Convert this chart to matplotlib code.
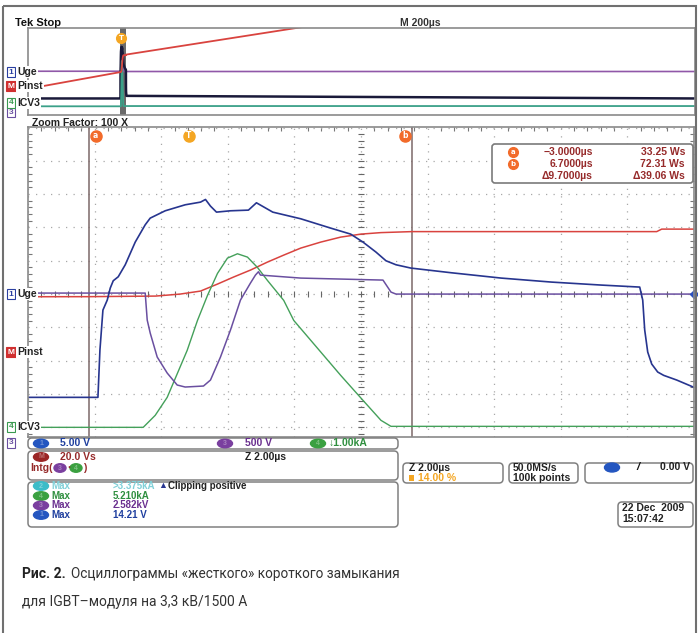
import numpy as np
import matplotlib.pyplot as plt
from matplotlib.patches import FancyBboxPatch, Rectangle, Ellipse

W, H = 698, 633

# channel settings: units per division, ground position in divisions
uge_scale, uge_pos = 5.0, 0.0        # ch1, V
uce_scale, uce_pos = 500.0, -4.47    # ch3, V
icv_scale, icv_pos = 1.0, -4.0       # ch4, kA
pinst_scale, pinst_pos = 20.0, -1.74 # math, Ws

# zoom window, time in us
uge_t = [-4.83, -2.73, -2.67, -2.58, -2.45, -2.36, -2.27, -2.12, -1.91, -1.61, -1.31, -1.16,
         -0.71, -0.11, 0.35, 0.50, 0.65, 0.83, 1.25, 1.79, 2.03, 2.24, 2.52, 3.36, 4.26, 4.86,
         5.23, 5.62, 5.92, 6.22, 6.67, 7.88, 9.38, 10.89, 12.39, 13.54, 13.63, 13.69, 13.78,
         13.90, 14.08, 14.26, 14.65, 15.17]
uge_v = [-15.5, -15.5, -8.4, -2.4, -0.9, 0.9, 2.0, 2.6, 4.4, 7.8, 10.4, 11.4,
         12.5, 13.4, 13.8, 14.2, 13.2, 12.3, 12.5, 12.6, 13.7, 13.1, 12.3, 11.3, 9.9, 9.0,
         7.8, 6.3, 5.0, 4.4, 3.9, 3.2, 2.4, 1.8, 1.35, 1.05, -0.9, -5.4, -8.7,
         -10.5, -11.7, -12.2, -12.9, -14.0]

uce_t = [-4.83, -1.31, -1.25, -1.16, -0.95, -0.65, -0.35, -0.11, 0.44, 0.65, 0.95, 1.25,
         1.55, 1.85, 2.00, 2.09, 2.15, 3.36, 5.83, 6.07, 6.22, 15.17]
uce_v = [2250, 2250, 1845, 1650, 1290, 1050, 870, 840, 855, 945, 1290, 1695,
         2145, 2400, 2520, 2570, 2520, 2475, 2445, 2265, 2235, 2235]

icv_t = [-4.83, -1.37, -1.01, -0.65, -0.05, 0.26, 0.56, 0.86, 1.16, 1.46, 1.76, 2.06,
         2.36, 2.85, 3.15, 4.56, 5.23, 5.77, 6.07, 15.17]
icv_i = [0.0, 0.0, 0.36, 0.90, 2.31, 3.21, 3.96, 4.62, 5.08, 5.21, 5.11, 4.80,
         4.41, 3.81, 3.21, 1.56, 0.81, 0.21, 0.03, 0.03]

pinst_t = [-4.83, -3.0, -1.0, -0.26, 0.35, 0.86, 1.34, 1.85, 2.36, 2.85, 3.36, 3.96,
           4.56, 5.17, 5.77, 6.70, 14.05, 14.20, 15.17]
pinst_e = [33.2, 33.25, 33.6, 34.8, 36.6, 40.8, 45.0, 49.2, 54.0, 58.2, 62.4, 66.0,
           69.0, 70.8, 71.7, 72.3, 72.3, 73.8, 73.8]

# overview record (M 200us), ends of the record
rec_start, rec_end = -280, 1720
pinst_ov_t = [-280] + pinst_t + [526, 1720]
pinst_ov_e = [-5.0] + pinst_e + [135.0, 279.0]

cursor_a, cursor_b = -3.0, 6.7

blue_c = '#27358f'
purple_c = '#6a4fa0'
green_c = '#44a05a'
red_c = '#d9433f'
cyan_c = '#3cbcc8'
orange_c = '#f26b2a'
yellow_c = '#f4a623'
cur_c = '#7c6868'
frame_c = '#8a8a8a'
maroon = '#962a2a'

fig = plt.figure(figsize=(W / 100, H / 100), dpi=100)
fig.patch.set_facecolor('white')


def px_axes(x0, y0, x1, y1):
    return fig.add_axes([x0 / W, 1 - y1 / H, (x1 - x0) / W, (y1 - y0) / H])


def to_div(vals, scale, pos):
    return pos + np.array(vals) / scale


# ---------- overview ----------
ov = px_axes(28, 28, 695, 115)
ov.set_xlim(rec_start, rec_end)
ov.set_ylim(-5, 5)
ov.set_xticks([])
ov.set_yticks([])
for s in ov.spines.values():
    s.set_color(frame_c)
    s.set_linewidth(1.2)
ov.axvspan(uge_t[0], uge_t[-1], color='#6a6a6a', lw=0)
ov.plot([rec_start] + uce_t + [rec_end], to_div([uce_v[0]] + uce_v + [uce_v[-1]], uce_scale, uce_pos),
        color='#9058a8', lw=1.2)
ov.plot([rec_start] + uge_t + [rec_end], to_div([uge_v[0]] + uge_v + [uge_v[0]], uge_scale, uge_pos),
        color='#1a1a3a', lw=1.8)
ov.plot([rec_start] + icv_t + [rec_end], to_div([0] + icv_i + [icv_i[-1]], icv_scale, icv_pos),
        color='#3aa088', lw=1.3)
ov.plot(pinst_ov_t, to_div(pinst_ov_e, pinst_scale, pinst_pos), color=red_c, lw=1.3)
ov.plot([0], [3.9], marker='o', ms=7, color=yellow_c, clip_on=False)
ov.text(0, 3.9, 'T', ha='center', va='center', fontsize=5, color='white', weight='bold')

# ---------- zoom window ----------
ax = px_axes(28, 127.5, 694, 437)
t0, t1 = -4.83, 15.17
ax.set_xlim(t0, t1)
ax.set_ylim(-4.29, 5.0)
ax.set_xticks(t0 + 2.0 * np.arange(11))
ax.set_xticks(t0 + 0.4 * np.arange(51), minor=True)
ax.set_yticks(np.arange(-4, 6))
ax.set_yticks(np.arange(-4.2, 5.01, 0.2), minor=True)
ax.tick_params(which='both', direction='in', top=True, right=True, bottom=False,
               labelbottom=False, labelleft=False, color='#777777')
ax.tick_params(which='major', length=0)
ax.tick_params(which='minor', length=3, width=0.8)
ax.grid(True, which='major', color='#a8a8a8', ls=(0, (1, 5)), lw=0.9)
for s in ax.spines.values():
    s.set_color(frame_c)
    s.set_linewidth(1.2)

tc = t0 + 10.0
yt = np.arange(-4.2, 5.0, 0.2)
ax.plot(np.full(len(yt), tc), yt, ls='', marker='_', ms=5, color='#666666', mew=0.8)
xt = t0 + 0.4 * np.arange(51)
ax.plot(xt, np.zeros(len(xt)), ls='', marker='|', ms=5, color='#666666', mew=0.8)

ax.axvline(cursor_a, color=cur_c, lw=1.1)
ax.axvline(cursor_b, color=cur_c, lw=1.1)

ax.plot(pinst_t, to_div(pinst_e, pinst_scale, pinst_pos), color=red_c, lw=1.1)
ax.plot(icv_t, to_div(icv_i, icv_scale, icv_pos), color=green_c, lw=1.0)
ax.plot(uce_t, to_div(uce_v, uce_scale, uce_pos), color=purple_c, lw=1.1)
ax.plot(uge_t, to_div(uge_v, uge_scale, uge_pos), color=blue_c, lw=1.2)
ax.plot([t1], [to_div([uce_v[-1]], uce_scale, uce_pos)[0]], marker='D', ms=4, color='#2a50c0', clip_on=False)

for t, lab, c, dx in [(cursor_a, 'a', orange_c, 0.2), (0.0, 'T', yellow_c, 0.0), (cursor_b, 'b', orange_c, -0.2)]:
    ax.plot([t + dx], [4.75], marker='o', ms=8, color=c)
    ax.text(t + dx, 4.75, lab, ha='center', va='center', fontsize=5.5, color='white', weight='bold')

# ---------- overlay: texts and boxes ----------
ax_o = fig.add_axes([0, 0, 1, 1])
ax_o.set_xlim(0, W)
ax_o.set_ylim(H, 0)
ax_o.axis('off')
ax_o.patch.set_visible(False)

ax_o.add_patch(Rectangle((2.5, 6), 693, 640, fill=False, ec='#707070', lw=1.5))

fam = ['Liberation Sans', 'DejaVu Sans']


def txt(x, y, s, color='#222222', size=7.5, ha='left', weight='bold', **kw):
    return ax_o.text(x, y, s, color=color, fontsize=size, ha=ha, va='center',
                     family=fam, weight=weight, **kw)


def badge(x, y, lab, color, w=15):
    ax_o.add_patch(Ellipse((x, y), w, 8.5, fc=color, ec=color))
    ax_o.text(x, y, lab, fontsize=5, ha='center', va='center', color='white', alpha=0.35,
              family=fam, weight='bold')


def chan_label(y, num, name, color, filled=False):
    ax_o.text(11, y, num, fontsize=6, ha='center', va='center', family=fam, weight='bold',
              color='white' if filled else color,
              bbox=dict(boxstyle='square,pad=0.15', fc=color if filled else 'white', ec=color, lw=0.8))
    if name:
        txt(17, y, name, color='#222222', size=7.5,
            bbox=dict(boxstyle='square,pad=0.1', fc='white', ec='none'))


txt(15, 23, 'Tek Stop', size=8, color='#111111')
txt(400, 23, 'M 200µs', size=7.5, color='#333333')
txt(32, 123, 'Zoom Factor: 100 X', size=7.5, color='#222222')

chan_label(112, '3', '', purple_c)
chan_label(103, '4', 'ICV3', '#3a9a50')
chan_label(72, '1', 'Uge', '#2a3fa0')
chan_label(86, 'M', 'Pinst', '#d03030', filled=True)

chan_label(294, '1', 'Uge', '#2a3fa0')
chan_label(352, 'M', 'Pinst', '#d03030', filled=True)
chan_label(427, '4', 'ICV3', '#3a9a50')
chan_label(443, '3', '', purple_c)

# cursor readout
ax_o.add_patch(FancyBboxPatch((492, 144), 201, 39, boxstyle='round,pad=0,rounding_size=3',
                              fc='white', ec='#7a7a7a', lw=1.2))
for y, lab, tval, eval_ in [(152, 'a', '−3.0000µs', '33.25 Ws'), (164, 'b', '6.7000µs', '72.31 Ws'),
                            (176, None, 'Δ9.7000µs', 'Δ39.06 Ws')]:
    if lab:
        ax_o.plot([513], [y], marker='o', ms=7, color=orange_c)
        ax_o.text(513, y, lab, fontsize=5, ha='center', va='center', color='white', weight='bold')
    txt(593, y, tval, color=maroon, ha='right', size=7.5)
    txt(685, y, eval_, color=maroon, ha='right', size=7.5)

# readout boxes under the screen
def rbox(x0, y0, x1, y1):
    ax_o.add_patch(FancyBboxPatch((x0, y0), x1 - x0, y1 - y0, boxstyle='round,pad=0,rounding_size=4',
                                  fc='white', ec='#808080', lw=1.1))


rbox(28, 438, 398, 449)
badge(41, 443.5, '1', '#2456c0')
txt(60, 443.5, '5.00 V', color='#1f3f9f')
badge(225, 443.5, '3', '#7a3f9f')
txt(245, 443.5, '500 V', color='#6a2f8f')
badge(318, 443.5, '4', '#3aa040')
txt(329, 443.5, '↓1.00kA', color='#2f8f3f')

rbox(28, 451, 398, 480)
badge(41, 457, 'M', '#9a2525')
txt(60, 457, '20.0 Vs', color=maroon)
txt(245, 457, 'Z 2.00µs', color='#222222')
txt(30, 468, 'Intg(', color=maroon)
badge(60, 468, '3', '#7a3f9f', w=12)
txt(67, 468, '·', color=maroon)
badge(76, 468, '4', '#3aa040', w=12)
txt(83, 468, ')', color=maroon)

rbox(28, 482, 398, 527)
rows = [(486, '2', cyan_c, '#7fd0d8', '>3.375kA'), (496, '4', '#3aa040', '#2f8f3f', '5.210kA'),
        (505.5, '3', '#7a3f9f', '#6a2f8f', '2.582kV'), (515, '1', '#2456c0', '#1f3f9f', '14.21 V')]
for y, num, bc, tc_, val in rows:
    badge(41, y, num, bc)
    txt(51, y, 'Max', color=tc_, size=7)
    txt(113, y, val, color=tc_, size=7)
txt(158, 486, '▲', color=blue_c, size=6.5)
txt(168, 486, 'Clipping positive', color='#222222', size=7)

rbox(403, 463, 503, 483)
txt(409, 468, 'Z 2.00µs', color='#222222')
ax_o.add_patch(Rectangle((409, 474.5), 5, 6, fc=yellow_c, ec='none'))
txt(418, 478, '14.00 %', color=yellow_c)

rbox(509, 463, 578, 483)
txt(513, 468, '50.0MS/s', color='#222222')
txt(513, 478, '100k points', color='#222222')

rbox(585, 463, 693, 483)
ax_o.add_patch(Ellipse((612, 467.5), 15, 9, fc='#2456c0', ec='#2456c0'))
txt(636, 467.5, '/', color='#111111', size=8, style='italic')
txt(690, 467.5, '0.00 V', color='#222222', ha='right')

rbox(618, 502, 693, 527)
txt(622, 508, '22 Dec  2009', color='#222222')
txt(622, 518.5, '15:07:42', color='#222222')

# caption
cap_fam = ['Roboto', 'DejaVu Sans']
t1_ = ax_o.text(22, 574, 'Рис. 2.', fontsize=10, weight='bold', family=cap_fam, color='#222222', va='center')
fig.canvas.draw()
bb = t1_.get_window_extent()
x_end = ax_o.transData.inverted().transform((bb.x1, bb.y0))[0]
ax_o.text(x_end + 5, 574, 'Осциллограммы «жесткого» короткого замыкания', fontsize=9.8,
          family=cap_fam, color='#333333', va='center')
ax_o.text(22, 602, 'для IGBT–модуля на 3,3 кВ/1500 А', fontsize=10, family=cap_fam,
          color='#333333', va='center')

fig.savefig('out.png', dpi=100)
